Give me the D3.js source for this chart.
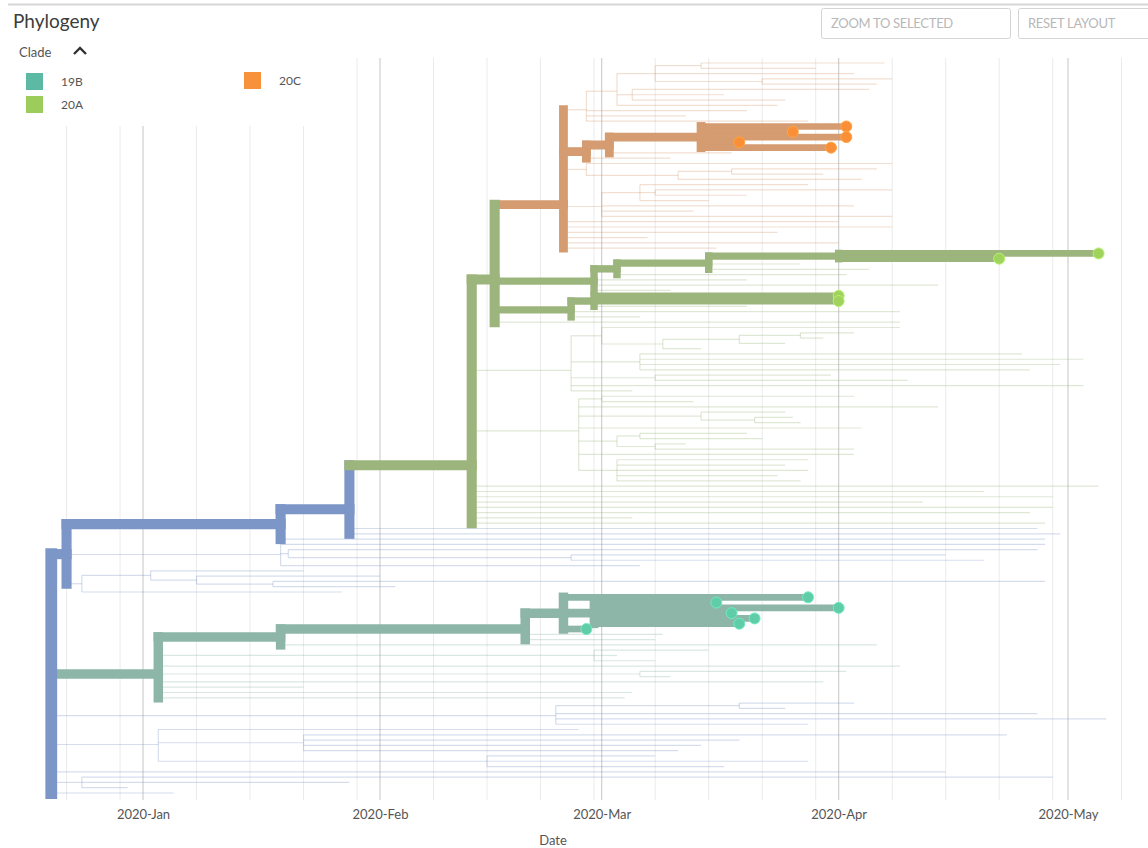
<!DOCTYPE html>
<html>
<head>
<meta charset="utf-8">
<script src="https://cdn.jsdelivr.net/npm/d3@7"></script>
<style>
  body { margin: 0; background: #fff; }
  svg { display: block; font-family: Lato, "Open Sans", sans-serif; }
</style>
</head>
<body>
<svg id="chart" width="1148" height="848"></svg>
<script>
// Phylogeny: every node as [id, parent, date]; tips are listed top to bottom.
const treeNodes = [
  ["root", "", "2019-12-20"],
  ["A1", "root", "2019-12-22"],
  ["A2", "A1", "2020-01-19"],
  ["A3", "A2", "2020-01-28"],
  ["G1", "A3", "2020-02-13"],
  ["G2", "G1", "2020-02-16"],
  ["O", "G2", "2020-02-25"],
  ["T1", "O", "2020-02-28"],
  ["T1a", "T1", "2020-03-03"],
  ["T1b", "T1a", "2020-03-08"],
  ["T1d", "T1b", "2020-03-14"],
  ["t0", "T1d", "2020-04-07"],
  ["t1", "T1d", "2020-03-29"],
  ["t2", "T1b", "2020-04-03"],
  ["T1e", "T1b", "2020-03-22"],
  ["t3", "T1e", "2020-04-08"],
  ["t4", "T1e", "2020-04-06"],
  ["T1c", "T1a", "2020-03-05"],
  ["t5", "T1c", "2020-04-05"],
  ["t6", "T1c", "2020-03-17"],
  ["t7", "T1c", "2020-03-25"],
  ["t8", "T1a", "2020-03-24"],
  ["t9", "T1", "2020-03-20"],
  ["t10", "T1", "2020-03-12"],
  ["t11", "T1", "2020-03-28"],
  ["S1", "O", "2020-02-28"],
  ["S2", "S1", "2020-03-02"],
  ["S3", "S2", "2020-03-14"],
  ["t12", "S3", "2020-04-02"],
  ["t13", "S3", "2020-03-26"],
  ["t14", "S3", "2020-04-02"],
  ["t15", "S3", "2020-03-19"],
  ["t16", "S3", "2020-03-31"],
  ["t17", "S2", "2020-03-18"],
  ["t18", "S1", "2020-03-10"],
  ["T2", "O", "2020-02-28"],
  ["t19", "T2", "2020-04-08"],
  ["T2a", "T2", "2020-03-11"],
  ["T2b", "T2a", "2020-03-18"],
  ["t20", "T2b", "2020-04-06"],
  ["t21", "T2b", "2020-03-30"],
  ["t22", "T2a", "2020-04-04"],
  ["T3", "O", "2020-03-01"],
  ["T3a", "T3", "2020-03-06"],
  ["t23", "T3a", "2020-03-28"],
  ["T3b", "T3a", "2020-03-08"],
  ["t24", "T3b", "2020-04-08"],
  ["t25", "T3b", "2020-03-20"],
  ["t26", "T3a", "2020-03-15"],
  ["t27", "T3", "2020-04-03"],
  ["t28", "T3", "2020-03-13"],
  ["t29", "T3", "2020-04-08"],
  ["t30", "O", "2020-04-01"],
  ["t31", "O", "2020-04-08"],
  ["t32", "O", "2020-03-24"],
  ["t33", "O", "2020-03-07"],
  ["t34", "O", "2020-04-01"],
  ["t35", "O", "2020-03-16"],
  ["GA", "G2", "2020-02-29"],
  ["GA1", "GA", "2020-03-03"],
  ["GA2", "GA1", "2020-03-15"],
  ["GA3", "GA2", "2020-04-01"],
  ["t36", "GA3", "2020-05-05"],
  ["t37", "GA3", "2020-04-22"],
  ["t38", "GA2", "2020-03-27"],
  ["t39", "GA2", "2020-04-05"],
  ["t40", "GA1", "2020-04-02"],
  ["t41", "GA", "2020-03-20"],
  ["t42", "GA", "2020-04-14"],
  ["t43", "GA", "2020-03-10"],
  ["GB", "G2", "2020-02-26"],
  ["GB1", "GB", "2020-02-29"],
  ["t44", "GB1", "2020-04-01"],
  ["t45", "GB1", "2020-04-01"],
  ["t46", "GB1", "2020-03-20"],
  ["t47", "GB", "2020-04-09"],
  ["t48", "GB", "2020-03-06"],
  ["t49", "G2", "2020-04-09"],
  ["F1", "G1", "2020-02-26"],
  ["F1a", "F1", "2020-03-01"],
  ["t50", "F1a", "2020-04-09"],
  ["F1a1", "F1a", "2020-03-09"],
  ["F1a2", "F1a1", "2020-03-19"],
  ["F1a3", "F1a2", "2020-03-27"],
  ["t51", "F1a3", "2020-04-03"],
  ["t52", "F1a3", "2020-03-30"],
  ["t53", "F1a2", "2020-03-25"],
  ["t54", "F1a1", "2020-03-14"],
  ["F1b", "F1", "2020-03-06"],
  ["t55", "F1b", "2020-04-25"],
  ["t56", "F1b", "2020-05-03"],
  ["t57", "F1b", "2020-04-30"],
  ["t58", "F1b", "2020-04-26"],
  ["F1c", "F1", "2020-03-08"],
  ["t59", "F1c", "2020-03-31"],
  ["t60", "F1c", "2020-04-10"],
  ["t61", "F1", "2020-05-03"],
  ["t62", "F1", "2020-03-05"],
  ["F2", "G1", "2020-02-27"],
  ["F2a", "F2", "2020-03-01"],
  ["t63", "F2a", "2020-04-03"],
  ["t64", "F2a", "2020-03-13"],
  ["t65", "F2", "2020-04-14"],
  ["F2b", "F2", "2020-03-14"],
  ["t66", "F2b", "2020-03-25"],
  ["F2c", "F2b", "2020-03-21"],
  ["t67", "F2c", "2020-03-26"],
  ["t68", "F2c", "2020-03-27"],
  ["t69", "F2", "2020-04-04"],
  ["F2d", "F2", "2020-03-03"],
  ["F2e", "F2d", "2020-03-06"],
  ["t70", "F2e", "2020-03-20"],
  ["t71", "F2e", "2020-03-22"],
  ["F2f", "F2d", "2020-03-08"],
  ["t72", "F2f", "2020-03-12"],
  ["t73", "F2f", "2020-04-03"],
  ["t74", "F2", "2020-04-03"],
  ["F2g", "F2", "2020-03-03"],
  ["t75", "F2g", "2020-03-28"],
  ["t76", "F2g", "2020-03-25"],
  ["t77", "F2g", "2020-03-28"],
  ["t78", "F2g", "2020-03-24"],
  ["t79", "F2g", "2020-03-27"],
  ["t80", "G1", "2020-05-05"],
  ["t81", "G1", "2020-04-20"],
  ["t82", "G1", "2020-04-29"],
  ["t83", "G1", "2020-04-12"],
  ["t84", "G1", "2020-04-29"],
  ["t85", "G1", "2020-04-26"],
  ["t86", "G1", "2020-03-05"],
  ["t87", "G1", "2020-04-28"],
  ["t88", "A3", "2020-04-27"],
  ["t89", "A3", "2020-04-30"],
  ["t90", "A2", "2020-04-28"],
  ["C1", "A1", "2020-01-19"],
  ["t91", "C1", "2020-04-28"],
  ["C1a", "C1", "2020-01-20"],
  ["t92", "C1a", "2020-04-27"],
  ["C1b", "C1a", "2020-02-26"],
  ["t93", "C1b", "2020-04-15"],
  ["t94", "C1b", "2020-04-20"],
  ["t95", "C1", "2020-03-06"],
  ["C2", "A1", "2019-12-24"],
  ["C2a", "C2", "2020-01-02"],
  ["t96", "C2a", "2020-01-22"],
  ["C2b", "C2a", "2020-01-08"],
  ["t97", "C2b", "2020-02-01"],
  ["C2c", "C2b", "2020-01-18"],
  ["t98", "C2c", "2020-04-28"],
  ["t99", "C2c", "2020-02-03"],
  ["t100", "C2", "2020-01-27"],
  ["B1", "root", "2020-01-03"],
  ["B2", "B1", "2020-01-19"],
  ["B3", "B2", "2020-02-20"],
  ["B4", "B3", "2020-02-25"],
  ["t101", "B4", "2020-03-28"],
  ["B5", "B4", "2020-02-29"],
  ["t102", "B5", "2020-03-16"],
  ["t103", "B5", "2020-04-01"],
  ["t104", "B5", "2020-03-18"],
  ["t105", "B5", "2020-03-21"],
  ["t106", "B5", "2020-03-19"],
  ["t107", "B4", "2020-02-28"],
  ["t108", "B3", "2020-03-09"],
  ["t109", "B3", "2020-03-08"],
  ["t110", "B2", "2020-04-06"],
  ["B1a", "B1", "2020-02-29"],
  ["t111", "B1a", "2020-03-15"],
  ["t112", "B1a", "2020-03-03"],
  ["t113", "B1a", "2020-03-08"],
  ["t114", "B1", "2020-04-09"],
  ["B1b", "B1", "2020-03-06"],
  ["t115", "B1b", "2020-04-02"],
  ["t116", "B1b", "2020-03-10"],
  ["t117", "B1", "2020-03-30"],
  ["t118", "B1", "2020-01-22"],
  ["t119", "B1", "2020-03-05"],
  ["t120", "B1", "2020-03-04"],
  ["D1", "root", "2020-02-24"],
  ["D1a", "D1", "2020-03-19"],
  ["t121", "D1a", "2020-04-03"],
  ["t122", "D1a", "2020-03-25"],
  ["t123", "D1", "2020-04-27"],
  ["t124", "D1", "2020-05-06"],
  ["t125", "D1", "2020-03-28"],
  ["D2", "root", "2020-01-03"],
  ["t126", "D2", "2020-02-27"],
  ["D2a", "D2", "2020-01-22"],
  ["t127", "D2a", "2020-04-23"],
  ["t128", "D2a", "2020-03-19"],
  ["t129", "D2a", "2020-03-14"],
  ["t130", "D2a", "2020-03-11"],
  ["D2b", "D2", "2020-02-15"],
  ["t131", "D2b", "2020-03-08"],
  ["t132", "D2b", "2020-03-28"],
  ["t133", "D2b", "2020-03-17"],
  ["t134", "root", "2020-04-15"],
  ["D4", "root", "2019-12-24"],
  ["t135", "D4", "2020-04-29"],
  ["t136", "D4", "2020-01-28"],
  ["t137", "D4", "2019-12-30"],
  ["t138", "root", "2020-01-05"]
];

// Tips picked out by the current filter
const selectedTips = ["t12", "t13", "t14", "t15", "t16", "t36", "t37", "t44", "t45",
  "t101", "t102", "t103", "t104", "t105", "t106", "t107"];

// Clade assignment: each clade starts at a node; everything else is 19A
const cladeNames = ["19A", "19B", "20A", "20C"];
const cladeRootNodes = ["root", "B1", "G1", "O"];
const branchColors = ["#7d96c8", "#8db6a8", "#9cb57d", "#d59b71"];
const tipColors = ["#7d96c8", "#5fcda8", "#9fd35e", "#fa8f38"];

// Legend entries
const legendClades = ["19B", "20A", "20C"];
const legendColors = ["#5bb9a4", "#9ccd5c", "#f8913c"];

// Axis ticks
const monthTicks = ["2020-01-01", "2020-02-01", "2020-03-01", "2020-04-01", "2020-05-01"];
const monthLabels = ["2020-Jan", "2020-Feb", "2020-Mar", "2020-Apr", "2020-May"];

const parseDate = d3.timeParse("%Y-%m-%d");
const svg = d3.select("#chart");

const root = d3.stratify().id(d => d[0]).parentId(d => d[1] || null)(treeNodes);
root.each(n => { n.date = parseDate(n.data[2]); });

// clade per node
const cladeIndex = new Map(cladeRootNodes.map((id, i) => [id, i]));
root.eachBefore(n => {
  n.clade = cladeIndex.has(n.id) ? cladeIndex.get(n.id) : (n.parent ? n.parent.clade : 0);
});

// selected descendants count
const selSet = new Set(selectedTips);
root.eachAfter(n => {
  n.sel = n.children ? d3.sum(n.children, c => c.sel) : (selSet.has(n.id) ? 1 : 0);
});

// y: tips evenly spaced, internal nodes at mean of children
const leaves = root.leaves();
const y = d3.scaleLinear().domain([0, leaves.length - 1]).range([63, 793]);
leaves.forEach((l, i) => { l.yv = y(i); });
root.eachAfter(n => { if (n.children) n.yv = d3.mean(n.children, c => c.yv); });

const x = d3.scaleTime()
  .domain([parseDate(monthTicks[0]), parseDate(monthTicks[4])])
  .range([143, 1068]);

// ---- grid ----
const gridG = svg.append("g");
const minor = [], major = [];
d3.timeMonth.range(parseDate("2019-12-01"), parseDate("2020-06-01")).forEach(m => {
  major.push(m);
  [8, 15, 22, 29].forEach(day => minor.push(new Date(m.getFullYear(), m.getMonth(), day)));
});
const inRange = d => x(d) > 40 && x(d) < 1125;
gridG.selectAll(".minor").data(minor.filter(inRange)).join("line")
  .attr("x1", d => x(d)).attr("x2", d => x(d)).attr("y1", 58).attr("y2", 800)
  .attr("stroke", "#ebebeb").attr("stroke-width", 1);
gridG.selectAll(".major").data(major.filter(inRange)).join("line")
  .attr("x1", d => x(d)).attr("x2", d => x(d)).attr("y1", 58).attr("y2", 800)
  .attr("stroke", "#cfcfcf").attr("stroke-width", 1.2);

// ---- header ----
svg.append("line").attr("x1", 8).attr("x2", 1148).attr("y1", 4.5).attr("y2", 4.5)
  .attr("stroke", "#d6d6d6").attr("stroke-width", 2);
svg.append("text").attr("x", 13).attr("y", 28).attr("font-size", 19)
  .attr("fill", "#3c3c3c").text("Phylogeny");

const buttons = [["ZOOM TO SELECTED", 821, 189], ["RESET LAYOUT", 1018, 140]];
buttons.forEach(([label, bx, bw]) => {
  svg.append("rect").attr("x", bx + 0.5).attr("y", 8.5).attr("width", bw).attr("height", 30)
    .attr("rx", 2).attr("fill", "#fff").attr("stroke", "#d4d4d4");
  svg.append("text").attr("x", bx + 10).attr("y", 28).attr("font-size", 13)
    .attr("fill", "#b8b8b8").attr("letter-spacing", -0.3).text(label);
});

// ---- legend (on a white panel above the grid) ----
svg.append("rect").attr("x", 10).attr("y", 40).attr("width", 330).attr("height", 86)
  .attr("fill", "#fff");
svg.append("text").attr("x", 19).attr("y", 57).attr("font-size", 13)
  .attr("fill", "#555").text("Clade");
svg.append("path").attr("d", "M74,54 L80,48 L86,54").attr("fill", "none")
  .attr("stroke", "#333").attr("stroke-width", 2.4);
const legendPos = [[26, 73], [26, 96], [244, 72]];
legendClades.forEach((c, i) => {
  const [lx, ly] = legendPos[i];
  svg.append("rect").attr("x", lx).attr("y", ly).attr("width", 17).attr("height", 17)
    .attr("fill", legendColors[i]);
  svg.append("text").attr("x", lx + 35).attr("y", ly + 13).attr("font-size", 12)
    .attr("fill", "#555").text(c);
});

// ---- axis ----
const axisG = svg.append("g").attr("transform", "translate(0,800)");
const axis = d3.axisBottom(x)
  .tickValues(monthTicks.map(parseDate))
  .tickFormat((d, i) => monthLabels[i])
  .tickSize(0).tickPadding(10);
axisG.call(axis);
axisG.select(".domain").remove();
axisG.selectAll("text").attr("font-size", 13).attr("fill", "#555")
  .attr("font-family", "Lato, 'Open Sans', sans-serif");
svg.append("text").attr("x", 553).attr("y", 845).attr("text-anchor", "middle")
  .attr("font-size", 13).attr("fill", "#555").text("Date");

// ---- branches ----
const nodes = root.descendants();
const width = n => 5 + 1.7 * Math.sqrt(n.sel);
const faintG = svg.append("g").attr("fill", "none");
const boldG = svg.append("g").attr("fill", "none");

function drawBranch(g, n, bold) {
  const col = branchColors[n.clade];
  const st = g.append("g")
    .attr("stroke", col)
    .attr("stroke-width", bold ? width(n) : 1.2)
    .attr("stroke-opacity", bold ? 1 : 0.32)
    .attr("stroke-linecap", bold ? "square" : "butt");
  if (n.parent) {
    st.append("path").attr("d", `M${x(n.parent.date)},${n.yv}H${x(n.date)}`);
  }
  if (n.children) {
    const ys = n.children.map(c => c.yv);
    st.append("path").attr("d", `M${x(n.date)},${d3.min(ys)}V${d3.max(ys)}`);
  }
}
nodes.filter(n => !n.sel).forEach(n => drawBranch(faintG, n, false));
nodes.filter(n => n.sel).sort((a, b) => a.sel - b.sel).forEach(n => drawBranch(boldG, n, true));

// ---- selected tips ----
svg.append("g").selectAll("circle")
  .data(leaves.filter(l => l.sel))
  .join("circle")
  .attr("cx", d => x(d.date)).attr("cy", d => d.yv).attr("r", 5.5)
  .attr("fill", d => tipColors[d.clade])
  .attr("stroke", d => d3.color(tipColors[d.clade]).brighter(0.4))
  .attr("stroke-width", 1);
</script>
</body>
</html>
